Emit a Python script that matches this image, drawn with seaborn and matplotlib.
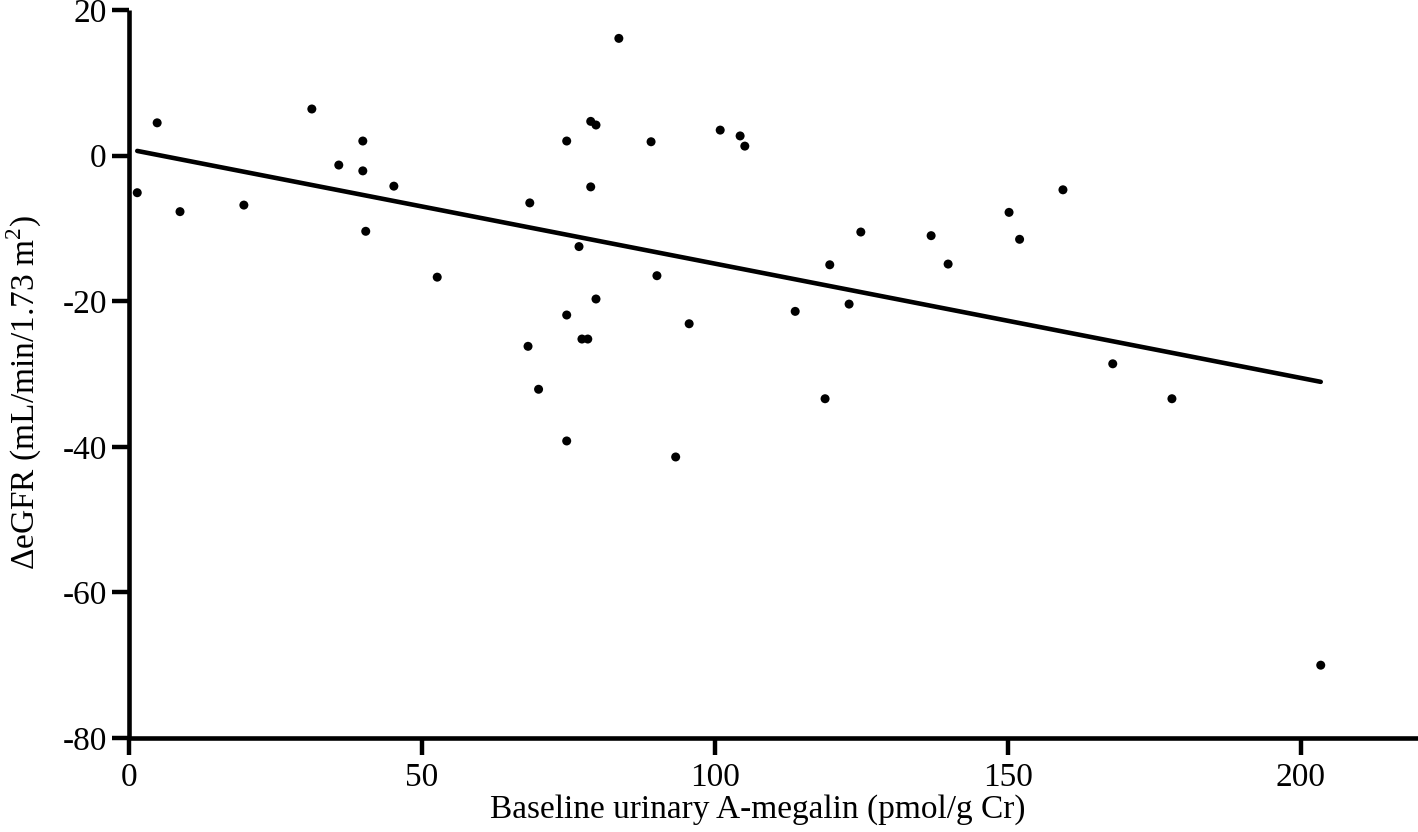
import matplotlib
matplotlib.use("Agg")
import matplotlib.pyplot as plt
import seaborn as sns
import pandas as pd

# Baseline urinary A-megalin (pmol/g Cr)
megalin = [1.4, 4.8, 8.7, 19.6, 31.2, 35.8, 39.9, 39.9, 40.4, 45.2,
           52.6, 68.4, 68.1, 69.9, 74.7, 74.7, 74.7, 76.8, 77.3, 78.3,
           78.8, 79.7, 78.8, 79.7, 83.6, 89.1, 90.1, 93.3, 95.6, 100.9,
           104.3, 105.1, 113.7, 118.8, 119.6, 122.9, 124.9, 136.9, 139.8, 150.2,
           152.0, 159.4, 167.9, 178.0, 203.4]
# Delta eGFR (mL/min/1.73 m2)
degfr = [-5.1, 4.5, -7.7, -6.8, 6.4, -1.3, 2.0, -2.1, -10.4, -4.2,
         -16.7, -6.5, -26.2, -32.1, 2.0, -21.9, -39.2, -12.5, -25.2, -25.2,
         4.7, 4.2, -4.3, -19.7, 16.1, 1.9, -16.5, -41.4, -23.1, 3.5,
         2.7, 1.3, -21.4, -33.4, -15.0, -20.4, -10.5, -11.0, -14.9, -7.8,
         -11.5, -4.7, -28.6, -33.4, -70.0]

x_ticks = [0, 50, 100, 150, 200]
y_ticks = [-80, -60, -40, -20, 0, 20]

df = pd.DataFrame({"x": megalin, "y": degfr})

sns.set_theme(style="ticks")
plt.rcParams["font.family"] = ["Liberation Serif", "DejaVu Serif"]
plt.rcParams["mathtext.fontset"] = "custom"
plt.rcParams["mathtext.rm"] = "Liberation Serif"
plt.rcParams["text.color"] = "black"
plt.rcParams["axes.labelcolor"] = "black"

fig = plt.figure(figsize=(14.18, 8.32), dpi=100)
ax = fig.add_axes([0.091, 0.113, 0.909, 0.875])

sns.regplot(data=df, x="x", y="y", ax=ax, ci=None, color="black",
            scatter_kws={"s": 42, "edgecolor": "none", "alpha": 1},
            line_kws={"linewidth": 3.3, "color": "black"})

ax.set_xlim(0, 220)
ax.set_ylim(-80, 20)
ax.set_xticks(x_ticks)
ax.set_yticks(y_ticks)
ax.set_xticklabels([str(t) for t in x_ticks])
ax.set_yticklabels([str(t) for t in y_ticks])
ax.spines["top"].set_visible(False)
ax.spines["right"].set_visible(False)
for s in ["left", "bottom"]:
    ax.spines[s].set_linewidth(3.3)
    ax.spines[s].set_color("black")
    ax.spines[s].set_capstyle("butt")
ax.tick_params(axis="both", length=12, width=3.2, colors="black",
               labelsize=24, pad=4, direction="out")
ax.tick_params(axis="x", pad=6)
ax.set_xlabel("Baseline urinary A-megalin (pmol/g Cr)", fontsize=24, color="black")
ax.set_ylabel("ΔeGFR (mL/min/1.73 m$^\\mathrm{2}$)", fontsize=24, color="black")
ax.xaxis.set_label_coords(0.488, -0.077)
ax.yaxis.set_label_coords(-0.066, 0.475)
ax.grid(False)

fig.savefig("out.png", dpi=100, facecolor="white")
